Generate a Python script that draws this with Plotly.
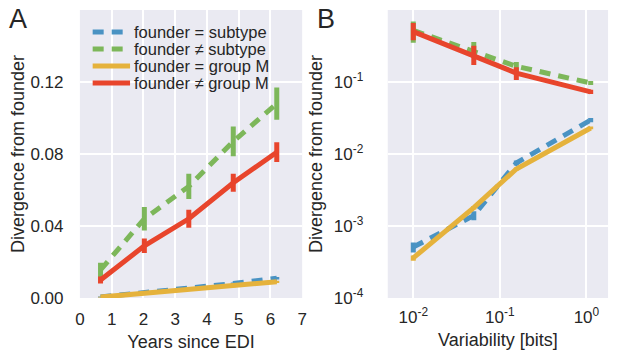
import plotly.graph_objects as go

# ---------------- data ----------------
series_names = ["founder = subtype", "founder \u2260 subtype", "founder = group M", "founder \u2260 group M"]
series_colors = ["#4A93C3", "#7DB75A", "#E5B23C", "#E8452C"]
series_dash = ["11px,8px", "11px,8px", "solid", "solid"]

# Panel A: years since EDI
years = [0.65, 2.03, 3.43, 4.83, 6.2]
a_sub_eq = [0.0006, 0.003, 0.0055, 0.008, 0.011]
a_sub_eq_err = [0.0003, 0.0004, 0.0005, 0.0006, 0.0007]
a_sub_ne = [0.0156, 0.044, 0.062, 0.087, 0.108]
a_sub_ne_err = [0.004, 0.0065, 0.007, 0.0083, 0.009]
a_grp_eq = [0.0005, 0.0025, 0.0045, 0.0065, 0.009]
a_grp_eq_err = [0.0002, 0.0003, 0.0004, 0.0005, 0.0006]
a_grp_ne = [0.010, 0.029, 0.044, 0.064, 0.081]
a_grp_ne_err = [0.002, 0.004, 0.005, 0.005, 0.0055]

# Panel B: variability [bits]
variability = [0.01, 0.05, 0.155, 1.12]
b_sub_eq = [0.00051, 0.0014, 0.0075, 0.0296]
b_sub_eq_hi = [0.00008, 0.0002, 0.0006, 0.002]
b_sub_eq_lo = [0.00008, 0.0002, 0.0006, 0.002]
b_sub_ne = [0.52, 0.27, 0.165, 0.097]
b_sub_ne_hi = [0.17, 0.09, 0.025, 0.006]
b_sub_ne_lo = [0.17, 0.05, 0.039, 0.006]
b_grp_eq = [0.00036, 0.0018, 0.0062, 0.023]
b_grp_eq_hi = [0.00003, 0.0001, 0.0003, 0.001]
b_grp_eq_lo = [0.00003, 0.0001, 0.0003, 0.001]
b_grp_ne = [0.50, 0.235, 0.133, 0.073]
b_grp_ne_hi = [0.16, 0.085, 0.027, 0.005]
b_grp_ne_lo = [0.12, 0.063, 0.026, 0.005]

a_xticks = [0, 1, 2, 3, 4, 5, 6, 7]
a_yticks = [0.0, 0.04, 0.08, 0.12]
a_yticktext = ["0.00", "0.04", "0.08", "0.12"]
b_xticks = [0.01, 0.1, 1]
b_xticktext = ["10<sup>-2</sup>", "10<sup>-1</sup>", "10<sup>0</sup>"]
b_yticks = [1e-4, 1e-3, 1e-2, 1e-1, 1]
b_yticktext = ["10<sup>-4</sup>", "10<sup>-3</sup>", "10<sup>-2</sup>",
               "10<sup>-1</sup>", "10<sup>0</sup>"]

FONT = "Liberation Sans, Arial, sans-serif"
TXT = "#262626"
LW = 5

fig = go.Figure()

a_vals = [a_sub_eq, a_sub_ne, a_grp_eq, a_grp_ne]
a_errs = [a_sub_eq_err, a_sub_ne_err, a_grp_eq_err, a_grp_ne_err]
for i in range(4):
    fig.add_trace(go.Scatter(
        x=years, y=a_vals[i], name=series_names[i], mode="lines",
        line=dict(color=series_colors[i], width=LW, dash=series_dash[i]),
        error_y=dict(type="data", array=a_errs[i], color=series_colors[i],
                     thickness=5, width=0, visible=True),
        xaxis="x", yaxis="y", showlegend=False))

b_vals = [b_sub_eq, b_sub_ne, b_grp_eq, b_grp_ne]
b_hi = [b_sub_eq_hi, b_sub_ne_hi, b_grp_eq_hi, b_grp_ne_hi]
b_lo = [b_sub_eq_lo, b_sub_ne_lo, b_grp_eq_lo, b_grp_ne_lo]
for i in range(4):
    fig.add_trace(go.Scatter(
        x=variability, y=b_vals[i], name=series_names[i], mode="lines",
        line=dict(color=series_colors[i], width=LW, dash=series_dash[i]),
        error_y=dict(type="data", array=b_hi[i], arrayminus=b_lo[i],
                     color=series_colors[i], thickness=5, width=0, visible=True),
        xaxis="x2", yaxis="y2", showlegend=False))

# the page shows the figure offset by the default 8px body margin
OFF = 8
W, H = 617 - OFF, 359 - OFF
PT, PB = 10 - OFF, 298 - OFF          # plot top / bottom (figure px)
PH = PB - PT

def px(x):
    return (x - OFF) / W

def py(y):
    # page y -> paper y (paper spans the plotting area vertically)
    return 1 - (y - 10) / 288.0

axis_common = dict(showgrid=True, gridcolor="white", gridwidth=1.5, zeroline=False,
                   showline=False, ticks="outside", tickcolor="rgba(0,0,0,0)")

fig.update_layout(
    width=W, height=H,
    margin=dict(l=0, r=0, t=PT, b=H - PB),
    paper_bgcolor="white", plot_bgcolor="#EAEAF2",
    font=dict(family=FONT, color=TXT),
    xaxis=dict(domain=[px(76), px(302)], range=[0, 7], tickvals=a_xticks, ticklen=6,
               tickfont=dict(size=17, color=TXT, family=FONT),
               title=dict(text="Years since EDI", font=dict(size=18, color=TXT), standoff=6),
               **axis_common),
    yaxis=dict(domain=[0, 1], range=[0, 0.16], tickvals=a_yticks, ticktext=a_yticktext,
               ticklen=12, tickfont=dict(size=17, color=TXT, family=FONT),
               title=dict(text="Divergence from founder", font=dict(size=18, color=TXT), standoff=4),
               **axis_common),
    xaxis2=dict(domain=[px(389), px(613)], type="log", range=[-2.295, 0.25],
                tickvals=b_xticks, ticktext=b_xticktext, ticklen=4, anchor="y2",
                tickfont=dict(size=17, color=TXT, family=FONT),
                title=dict(text="Variability [bits]", font=dict(size=18, color=TXT), standoff=6),
                **axis_common),
    yaxis2=dict(domain=[0, 1], type="log", range=[-4, 0], tickvals=b_yticks,
                ticktext=b_yticktext, ticklen=20, anchor="x2",
                tickfont=dict(size=17, color=TXT, family=FONT),
                title=dict(text="Divergence from founder", font=dict(size=18, color=TXT), standoff=6),
                **axis_common),
)

# panel labels
fig.add_annotation(text="A", x=px(13), y=py(19), xref="paper", yref="paper",
                   yanchor="middle", xanchor="center", showarrow=False,
                   font=dict(size=27, color=TXT, family=FONT))
fig.add_annotation(text="B", x=px(326), y=py(19), xref="paper", yref="paper",
                   yanchor="middle", xanchor="center", showarrow=False,
                   font=dict(size=27, color=TXT, family=FONT))

# legend (compact, matplotlib-like spacing) inside panel A
leg_rows = [32, 49, 66, 83]
for i in range(4):
    yp = 1 - (leg_rows[i] - 10) / 288.0
    fig.add_shape(type="line", xref="x domain", yref="y domain",
                  x0=(89 - 76) / 226.0, x1=(127 - 76) / 226.0, y0=yp, y1=yp,
                  line=dict(color=series_colors[i], width=5, dash=series_dash[i]))
    fig.add_annotation(text=series_names[i], xref="x domain", yref="y domain",
                       x=(129 - 76) / 226.0, y=yp, xanchor="left", yanchor="middle",
                       showarrow=False, font=dict(size=16.5, color=TXT, family=FONT))

fig.write_html("out.html")
